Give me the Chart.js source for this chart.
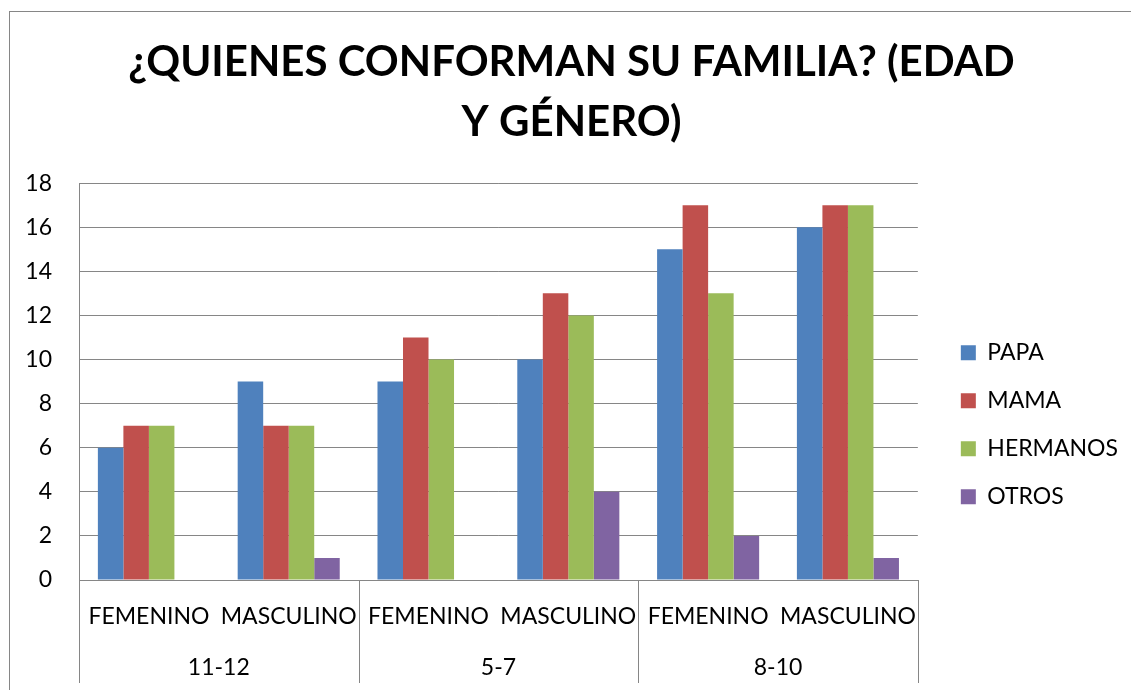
<!DOCTYPE html>
<html>
<head>
<meta charset="utf-8">
<script src="https://cdn.jsdelivr.net/npm/chart.js@4.4.1/dist/chart.umd.min.js"></script>
<style>
    html, body { margin: 0; padding: 0; background: #fff; overflow: hidden; }
    #frame { position: absolute; left: 9px; top: 11px; width: 1134px; height: 690px;
             border-left: 1px solid #868686; border-top: 1px solid #868686; }
    #frame canvas { display: block; }
</style>
</head>
<body>
<div id="frame"><canvas id="chart"></canvas></div>
<script>
const titleLines = ['¿QUIENES CONFORMAN SU FAMILIA? (EDAD', 'Y GÉNERO)'];
const ageGroups = ['11-12', '5-7', '8-10'];
const genders = ['FEMENINO', 'MASCULINO'];
const yTicks = [0, 2, 4, 6, 8, 10, 12, 14, 16, 18];

// one value per (age group, gender) pair, in the order above
const papa     = [6, 9, 9, 10, 15, 16];
const mama     = [7, 7, 11, 13, 17, 17];
const hermanos = [7, 7, 10, 12, 13, 17];
const otros    = [0, 1, 0, 4, 2, 1];

const seriesNames  = ['PAPA', 'MAMA', 'HERMANOS', 'OTROS'];
const seriesColors = ['#4F81BD', '#C0504D', '#9BBB59', '#8064A2'];

const categories = ageGroups.flatMap(() => genders);
const FONT = 'Lato, "Open Sans", sans-serif';
const GRID = '#868686';

// vertical separators between age groups, running through both label rows
const groupDividers = {
    id: 'groupDividers',
    afterDraw(chart) {
        const { ctx, chartArea } = chart;
        const x2 = chart.scales.x2;
        const step = (x2.right - x2.left) / ageGroups.length;
        ctx.save();
        ctx.strokeStyle = GRID;
        ctx.lineWidth = 1;
        for (let i = 0; i <= ageGroups.length; i++) {
            const px = Math.round(x2.left + i * step) + 0.5;
            ctx.beginPath();
            ctx.moveTo(px, chartArea.bottom);
            ctx.lineTo(px, x2.bottom);
            ctx.stroke();
        }
        ctx.restore();
    }
};

const noSidePadding = (scale) => { scale.paddingLeft = 0; scale.paddingRight = 0; };

new Chart(document.getElementById('chart'), {
    type: 'bar',
    data: {
        labels: categories,
        datasets: [papa, mama, hermanos, otros].map((vals, i) => ({
            label: seriesNames[i],
            data: vals,
            backgroundColor: seriesColors[i],
            borderWidth: 0,
            categoryPercentage: 0.73,
            barPercentage: 1.0
        }))
    },
    options: {
        responsive: true,
        maintainAspectRatio: false,
        animation: false,
        layout: { padding: { left: 15, right: 26, top: 0, bottom: 19 } },
        plugins: {
            title: {
                display: true,
                text: titleLines,
                color: '#000',
                font: { family: FONT, size: 42, weight: 'bold', lineHeight: 1.43 },
                padding: { top: 20, bottom: 31 }
            },
            legend: {
                position: 'right',
                title: { display: true, text: '', padding: { top: 0, bottom: 140 } },
                labels: {
                    color: '#000',
                    boxWidth: 15,
                    boxHeight: 15,
                    padding: 25,
                    font: { family: FONT, size: 23 }
                }
            },
            tooltip: { enabled: false }
        },
        scales: {
            x: {
                type: 'category',
                grid: { display: false, drawTicks: false },
                border: { display: true, color: GRID },
                ticks: { color: '#000', font: { family: FONT, size: 23 }, padding: 23,
                         maxRotation: 0, autoSkip: false },
                afterFit(scale) { scale.height = 52; noSidePadding(scale); }
            },
            x2: {
                type: 'category',
                position: 'bottom',
                labels: ageGroups,
                offset: true,
                grid: { display: false, drawTicks: false },
                border: { display: false },
                ticks: { color: '#000', font: { family: FONT, size: 23 }, padding: 22, maxRotation: 0 },
                afterFit(scale) { scale.height = 51; noSidePadding(scale); }
            },
            y: {
                min: 0,
                max: 18,
                afterBuildTicks(scale) { scale.ticks = yTicks.map(v => ({ value: v })); },
                grid: { color: GRID, drawTicks: false },
                border: { display: true, color: GRID },
                ticks: { color: '#000', font: { family: FONT, size: 23 }, padding: 27 },
                afterFit(scale) { scale.width = 54; }
            },
            yGap: {
                position: 'right',
                display: true,
                grid: { display: false, drawTicks: false },
                border: { display: false },
                ticks: { display: false },
                afterFit(scale) { scale.width = 18; }
            }
        }
    },
    plugins: [groupDividers]
});
</script>
</body>
</html>
